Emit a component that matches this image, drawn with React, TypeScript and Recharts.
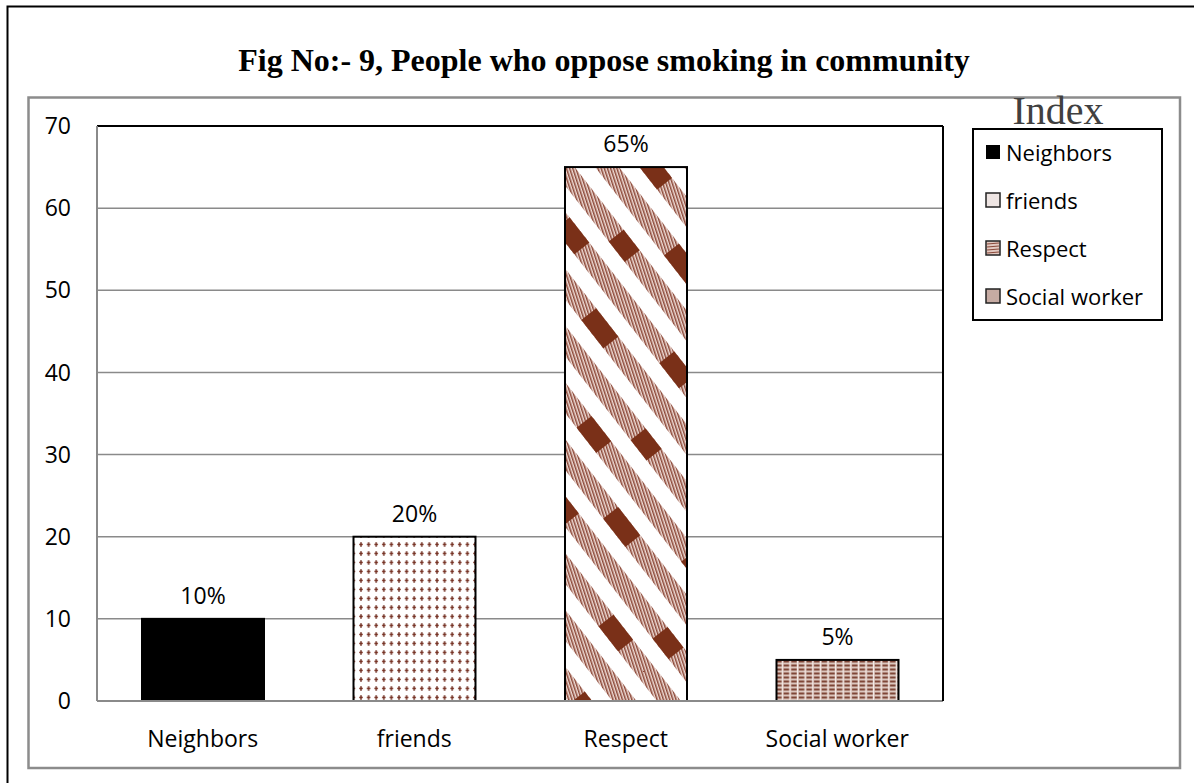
import React from "react";
import {
  BarChart,
  Bar,
  XAxis,
  YAxis,
  CartesianGrid,
  LabelList,
  Legend,
  ReferenceLine,
} from "recharts";

// chart values
const categories = ["Neighbors", "friends", "Respect", "Social worker"];
const values = [10, 20, 65, 5];
const valueLabels = ["10%", "20%", "65%", "5%"];
const yTicks = [0, 10, 20, 30, 40, 50, 60, 70];

const data = categories.map((name, i) => ({
  name,
  value: values[i],
  label: valueLabels[i],
}));

const FONT = "'Open Sans', 'Noto Sans', sans-serif";
const GRID = "#8a8a8a";
const FILLS = ["#000000", "url(#plusPat)", "url(#hatchPat)", "url(#wovenPat)"];

// bar drawn with the rect that recharts computes
const PatternBar = (props: any) => {
  const { x, y, width, height, index } = props;
  if (index === 2) {
    return (
      <g>
        <rect x={x} y={y} width={width} height={height} fill="url(#hatchPat)" />
        <rect x={x} y={y} width={width} height={height} fill="url(#gapPat)" />
        <rect x={x} y={y} width={width} height={height} fill="url(#patchPat)" />
        <rect x={x} y={y} width={width} height={height} fill="none" stroke="#000" strokeWidth={2} />
      </g>
    );
  }
  return (
    <rect
      x={x}
      y={y}
      width={width}
      height={height}
      fill={FILLS[index]}
      stroke="#000"
      strokeWidth={2}
    />
  );
};

const Swatch = ({ i }: { i: number }) => {
  if (i === 0) return <rect x={1} y={1} width={14} height={14} fill="#000" />;
  if (i === 1)
    return <rect x={1} y={1} width={14} height={14} fill="#eee5e3" stroke="#222" strokeWidth={1.5} />;
  if (i === 2)
    return (
      <g>
        <rect x={1} y={1} width={14} height={14} fill="#e2c9c1" stroke="#222" strokeWidth={1.5} />
        {[4, 7, 10, 13].map((yy) => (
          <line key={yy} x1={2} y1={yy} x2={14} y2={yy - 1} stroke="#8b4a3b" strokeWidth={1.2} />
        ))}
      </g>
    );
  return <rect x={1} y={1} width={14} height={14} fill="#c6aba3" stroke="#222" strokeWidth={1.5} />;
};

const IndexLegend = () => (
  <div
    style={{
      boxSizing: "border-box",
      width: 191,
      height: 193,
      border: "2px solid #000",
      background: "#fff",
      fontFamily: FONT,
      fontSize: 22,
      color: "#000",
      marginTop: -1,
    }}
  >
    {categories.map((c, i) => (
      <div key={c} style={{ height: 48, marginTop: i === 0 ? -2 : 0, display: "flex", alignItems: "center", paddingLeft: 11 }}>
        <svg width={16} height={16} style={{ marginRight: 5 }}>
          <Swatch i={i} />
        </svg>
        <span style={{ lineHeight: "22px" }}>{c}</span>
      </div>
    ))}
  </div>
);

export default function App() {
  return (
    <div style={{ position: "absolute", left: 0, top: 0, width: 1194, height: 783, background: "#fff" }}>
      <svg width={1194} height={783} style={{ position: "absolute", left: 0, top: 0 }}>
        <path d="M7.5,783 V6.5 H1194" fill="none" stroke="#000" strokeWidth={2} />
        <rect x={28.5} y={97.5} width={1151.5} height={670.5} fill="none" stroke="#8c8c8c" strokeWidth={2.5} />
        <text
          x={604}
          y={71}
          textAnchor="middle"
          fontFamily="'Liberation Serif', 'Times New Roman', serif"
          fontWeight="bold"
          fontSize={32}
          fill="#000"
        >
          Fig No:- 9, People who oppose smoking in community
        </text>
        <text
          x={1058}
          y={124}
          textAnchor="middle"
          fontFamily="'Liberation Serif', 'Times New Roman', serif"
          fontSize={40}
          fill="#404040"
        >
          Index
        </text>
      </svg>
      <div style={{ position: "absolute", left: 0, top: 0 }}>
        <BarChart
          width={1194}
          height={783}
          data={data}
          margin={{ top: 126, right: 250, left: 40, bottom: 32 }}
        >
          <defs>
            <pattern id="plusPat" patternUnits="userSpaceOnUse" width={7.6} height={9}>
              <rect width={7.6} height={9} fill="#fff" />
              <rect x={2} y={3.7} width={3.6} height={1.5} fill="#8a4436" />
              <rect x={3.1} y={2.2} width={1.4} height={4.6} fill="#6e2c1f" />
            </pattern>
            <pattern id="wovenPat" patternUnits="userSpaceOnUse" width={7.6} height={4}>
              <rect width={7.6} height={4} fill="#dcc6be" />
              <rect x={0.8} y={0.5} width={5.6} height={2} fill="#7f4637" />
              <rect x={6.6} y={0} width={1} height={4} fill="#f4ebe8" />
            </pattern>
            <pattern id="hatchPat" patternUnits="userSpaceOnUse" width={3} height={12} patternTransform="rotate(-18)">
              <rect width={3} height={12} fill="#efdcd6" />
              <rect width={1.5} height={12} fill="#8c4838" />
            </pattern>
            <pattern id="gapPat" patternUnits="userSpaceOnUse" width={10} height={35} patternTransform="rotate(52)">
              <rect y={19} width={10} height={16} fill="#fff" />
            </pattern>
            <pattern id="patchPat" patternUnits="userSpaceOnUse" width={170} height={105} patternTransform="rotate(52)">
              <rect x={12} y={0} width={32} height={19} fill="#7a3018" />
              <rect x={100} y={35} width={36} height={19} fill="#7a3018" />
              <rect x={55} y={70} width={26} height={19} fill="#7a3018" />
            </pattern>
          </defs>
          <CartesianGrid vertical={false} stroke={GRID} strokeWidth={1.5} />
          <XAxis
            dataKey="name"
            axisLine={{ stroke: GRID, strokeWidth: 2 }}
            tickLine={false}
            tickMargin={24}
            height={50}
            tick={{ fill: "#000", fontSize: 23, fontFamily: FONT }}
          />
          <YAxis
            domain={[0, 70]}
            ticks={yTicks}
            interval={0}
            axisLine={{ stroke: GRID, strokeWidth: 2 }}
            tickLine={false}
            tickMargin={20}
            width={57}
            tick={{ fill: "#000", fontSize: 23, fontFamily: FONT }}
          />
          <YAxis
            yAxisId="frame"
            orientation="right"
            tick={false}
            axisLine={{ stroke: "#000", strokeWidth: 2 }}
            tickLine={false}
            width={1}
          />
          <ReferenceLine y={70} stroke="#000" strokeWidth={2} />
          <Legend
            layout="horizontal"
            verticalAlign="middle"
            align="center"
            content={() => <IndexLegend />}
            wrapperStyle={{ position: "absolute", left: 972, top: 129, width: 191, height: 193 }}
          />
          <Bar dataKey="value" barSize={122} shape={PatternBar} isAnimationActive={false}>
            <LabelList
              dataKey="label"
              position="top"
              offset={15}
              fill="#000"
              fontSize={23}
              fontFamily={FONT}
            />
          </Bar>
        </BarChart>
      </div>
    </div>
  );
}
